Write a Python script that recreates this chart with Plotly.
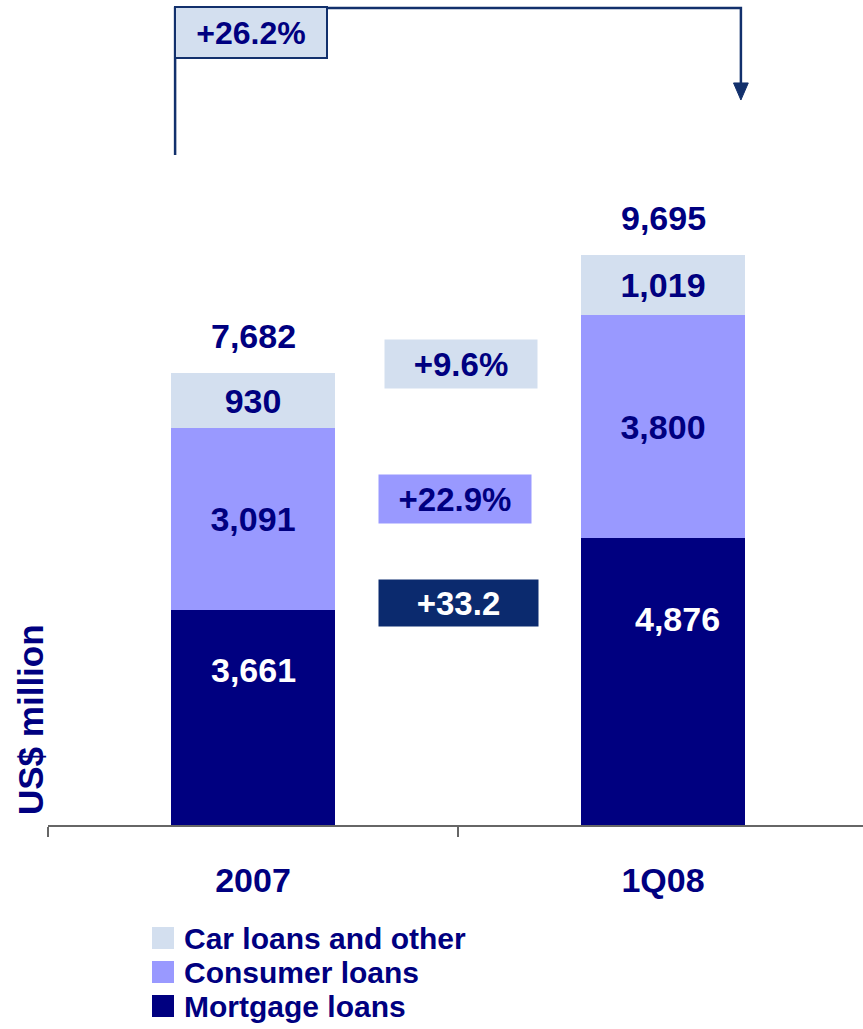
import plotly.graph_objects as go

W, H = 863, 1029

categories = ["2007", "1Q08"]
mortgage = [3661, 4876]
consumer = [3091, 3800]
car_other = [930, 1019]
series_names = ["Car loans and other", "Consumer loans", "Mortgage loans"]

NAVY = "#000080"
C_MORT = "#000080"
C_CONS = "#9999FF"
C_CAR = "#D3DFEF"
C_LINE = "#12306C"
FONT = "Arial, Liberation Sans, sans-serif"

totals = [m + c + o for m, c, o in zip(mortgage, consumer, car_other)]


def growth(a, b):
    return (b / a - 1) * 100


def px(x):
    return x / W


def py(y):
    return 1 - y / H


def bold(size, color=NAVY):
    return dict(family=FONT, size=size, color=color, weight="bold")


fig = go.Figure()
fig.add_trace(go.Bar(x=categories, y=mortgage, name=series_names[2],
                     marker=dict(color=C_MORT, line=dict(width=0))))
fig.add_trace(go.Bar(x=categories, y=consumer, name=series_names[1],
                     marker=dict(color=C_CONS, line=dict(width=0)),
                     text=[f"{v:,}" for v in consumer], textposition="inside",
                     insidetextanchor="middle", constraintext="none",
                     textfont=bold(34)))
fig.add_trace(go.Bar(x=categories, y=car_other, name=series_names[0],
                     marker=dict(color=C_CAR, line=dict(width=0)),
                     text=[f"{v:,}" for v in car_other], textposition="inside",
                     insidetextanchor="middle", constraintext="none",
                     textfont=bold(34)))

# mortgage labels sit in the upper part of the segment
for i, v in enumerate(mortgage):
    fig.add_annotation(x=i, y=v * 0.72, text=f"{v:,}", showarrow=False,
                       xanchor="center", yanchor="middle",
                       xshift=[0, 14][i], font=bold(34, "white"))

# totals above bars
for i, t in enumerate(totals):
    fig.add_annotation(x=i, y=t, yshift=37, text=f"{t:,}", showarrow=False,
                       xanchor="center", yanchor="middle", font=bold(34))

# growth boxes between the bars
boxes = [
    (f"+{growth(car_other[0], car_other[1]):.1f}%", 7840, C_CAR, NAVY, 152, 48, 3),
    (f"+{growth(consumer[0], consumer[1]):.1f}%", 5544, C_CONS, NAVY, 152, 48, -3),
    (f"+{growth(mortgage[0], mortgage[1]):.1f}", 3776, "#0B2A6E", "white", 159, 46, 0),
]
for txt, yv, bg, fc, w, h, xs in boxes:
    fig.add_annotation(x=0.5, y=yv, text=txt, showarrow=False, xshift=xs,
                       xanchor="center", yanchor="middle",
                       width=w, height=h, bgcolor=bg, borderpad=0,
                       font=bold(33, fc))

# bracket with arrow for total growth
xl, xr = -0.19, 1.19
fig.add_shape(type="path", xref="x", yref="y",
              path=f"M {xl},11395 L {xl},13895 L {xr},13895 L {xr},12600",
              line=dict(color=C_LINE, width=2.5))
fig.add_shape(type="path", xref="x", yref="y",
              path=f"M {xr - 0.018},12620 L {xr + 0.018},12620 L {xr},12330 Z",
              fillcolor=C_LINE, line=dict(color=C_LINE, width=1))
fig.add_annotation(xref="paper", yref="paper", x=px(251), y=py(33),
                   xanchor="center", yanchor="middle",
                   text=f"+{growth(totals[0], totals[1]):.1f}%", showarrow=False,
                   width=150, height=49, bgcolor=C_CAR, bordercolor=C_LINE,
                   borderwidth=2, borderpad=0, font=bold(32))

# y title
fig.add_annotation(xref="paper", yref="paper", x=px(30), y=py(720),
                   xanchor="center", yanchor="middle",
                   text="US$ million", textangle=-90, showarrow=False,
                   font=bold(35))

# custom legend
for name, color, yc in zip(series_names, [C_CAR, C_CONS, C_MORT], [938, 972, 1006]):
    fig.add_shape(type="rect", xref="paper", yref="paper",
                  x0=px(152), x1=px(174), y0=py(yc - 11), y1=py(yc + 11),
                  fillcolor=color, line=dict(width=0))
    fig.add_annotation(xref="paper", yref="paper", x=px(182), y=py(yc),
                       xanchor="left", yanchor="middle", text=name,
                       showarrow=False, font=bold(30))

fig.update_layout(
    width=W, height=H, barmode="stack", bargap=0.6, showlegend=False,
    margin=dict(l=0, r=0, t=0, b=0),
    plot_bgcolor="white", paper_bgcolor="white",
    xaxis=dict(domain=[48 / W, 1], range=[-0.5, -0.5 + 815 / 410],
               showline=True, linecolor="#666666", linewidth=1.5,
               ticks="outside", tickson="boundaries", ticklen=10,
               tickcolor="#666666", tickwidth=1.5, ticklabelstandoff=24,
               tickfont=bold(34), showgrid=False, zeroline=False),
    yaxis=dict(domain=[(H - 825) / H, 1], range=[0, 14031], visible=False),
)

fig.write_html("out.html", config={"displayModeBar": False},
               post_script="document.body.style.margin='0';")
